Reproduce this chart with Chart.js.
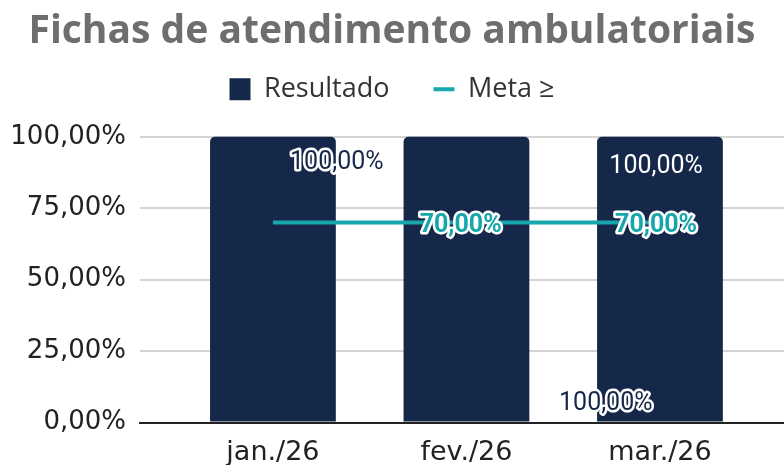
<!DOCTYPE html>
<html lang="pt-BR">
<head>
<meta charset="utf-8">
<title>Fichas de atendimento ambulatoriais</title>
<script src="https://cdn.jsdelivr.net/npm/chart.js@4/dist/chart.umd.min.js"></script>
<style>
  html, body { margin: 0; padding: 0; background: #fff; }
  #wrap { position: relative; width: 784px; height: 465px; }
</style>
</head>
<body>
<div id="wrap"><canvas id="grafico"></canvas></div>
<script>
// ==================== DADOS ====================
const meses = ['jan./26', 'fev./26', 'mar./26'];
const resultado = [100, 100, 100];
const meta = [70, 70, 70];
const ticksY = [0, 25, 50, 75, 100];

const COR_BARRA = '#16284a';
const COR_META = '#17a6ab';

function formatarPct(v) {
  return v.toFixed(2).replace('.', ',') + '%';
}

// Rótulos de valor: deslocamento em índice (x) e em pontos percentuais (y)
const rotulosResultado = [
  { dx: 0.33, dy: -9, cor: COR_BARRA, contorno: true },
  { dx: 0.72, dy: -93.3, cor: COR_BARRA, contorno: true },
  { dx: -0.02, dy: -10.5, cor: '#ffffff', contorno: false }
];
const rotulosMeta = [
  null,
  { dx: -0.03, dy: -1, cor: COR_META },
  { dx: -0.02, dy: -1, cor: COR_META }
];

function desenharTexto(ctx, txt, x, y, cor, contorno) {
  if (contorno) {
    ctx.lineJoin = 'round';
    ctx.lineWidth = 5;
    ctx.strokeStyle = '#ffffff';
    ctx.strokeText(txt, x, y);
  }
  ctx.fillStyle = cor;
  ctx.fillText(txt, x, y);
}

const pluginRotulos = {
  id: 'rotulos',
  afterDatasetsDraw(chart) {
    const { ctx } = chart;
    const sx = chart.scales.x;
    const sy = chart.scales.y;
    ctx.save();
    ctx.textAlign = 'center';
    ctx.textBaseline = 'middle';

    ctx.font = '25px Roboto';
    resultado.forEach((v, i) => {
      const r = rotulosResultado[i];
      desenharTexto(ctx, formatarPct(v), sx.getPixelForValue(i + r.dx), sy.getPixelForValue(v + r.dy), r.cor, r.contorno);
    });

    ctx.font = 'bold 25px Roboto';
    meta.forEach((v, i) => {
      const r = rotulosMeta[i];
      if (!r) return;
      desenharTexto(ctx, formatarPct(v), sx.getPixelForValue(i + r.dx), sy.getPixelForValue(v + r.dy), r.cor, true);
    });
    ctx.restore();
  }
};

// ==================== GRÁFICO ====================
function criarGrafico() {
  const ctx = document.getElementById('grafico').getContext('2d');

  new Chart(ctx, {
    data: {
      datasets: [
        {
          type: 'bar',
          label: 'Resultado',
          data: resultado.map((v, i) => ({ x: i, y: v })),
          backgroundColor: COR_BARRA,
          borderRadius: { topLeft: 5, topRight: 5 },
          borderSkipped: 'bottom',
          barPercentage: 0.65,
          categoryPercentage: 1,
          pointStyle: 'rect'
        },
        {
          type: 'line',
          label: 'Meta ≥',
          data: meta.map((v, i) => ({ x: i, y: v })),
          borderColor: COR_META,
          backgroundColor: COR_META,
          borderWidth: 4,
          pointRadius: 0,
          pointStyle: 'line',
          order: -1
        }
      ]
    },
    options: {
      responsive: true,
      maintainAspectRatio: false,
      animation: false,
      layout: { padding: { left: 0, right: 0, top: 8, bottom: -18 } },
      plugins: {
        title: {
          display: true,
          text: 'Fichas de atendimento ambulatoriais',
          color: '#6e6e6e',
          font: { family: 'Open Sans', size: 39, weight: 'bold' },
          padding: { top: 0, bottom: -23 }
        },
        legend: {
          display: true,
          position: 'top',
          labels: {
            usePointStyle: true,
            pointStyleWidth: 21,
            boxHeight: 22,
            color: '#333333',
            font: { family: 'Open Sans', size: 27 },
            padding: 44,
            sort: (a, b) => a.datasetIndex - b.datasetIndex
          }
        },
        tooltip: { enabled: false }
      },
      scales: {
        x: {
          type: 'linear',
          offset: false,
          min: -0.687,
          max: 2.641,
          afterBuildTicks: (scale) => {
            scale.ticks = meses.map((m, i) => ({ value: i }));
          },
          ticks: {
            callback: (v) => meses[v],
            color: '#222222',
            font: { family: 'DejaVu Sans', size: 27 },
            padding: 14,
            autoSkip: false,
            maxRotation: 0
          },
          grid: { display: false, drawTicks: false },
          border: { display: true, color: '#222222', width: 2 }
        },
        y: {
          min: 0,
          max: 108.4, // folga acima de 100% para separar da legenda
          afterBuildTicks: (scale) => {
            scale.ticks = ticksY.map(v => ({ value: v }));
          },
          afterFit: (scale) => { scale.width = 140; },
          ticks: {
            callback: (v) => formatarPct(v),
            color: '#222222',
            font: { family: 'DejaVu Sans', size: 26 },
            padding: 14
          },
          grid: { color: '#d4d4d4', lineWidth: 2, drawTicks: false },
          border: { display: false }
        }
      }
    },
    plugins: [pluginRotulos]
  });
}

criarGrafico();
</script>
</body>
</html>
